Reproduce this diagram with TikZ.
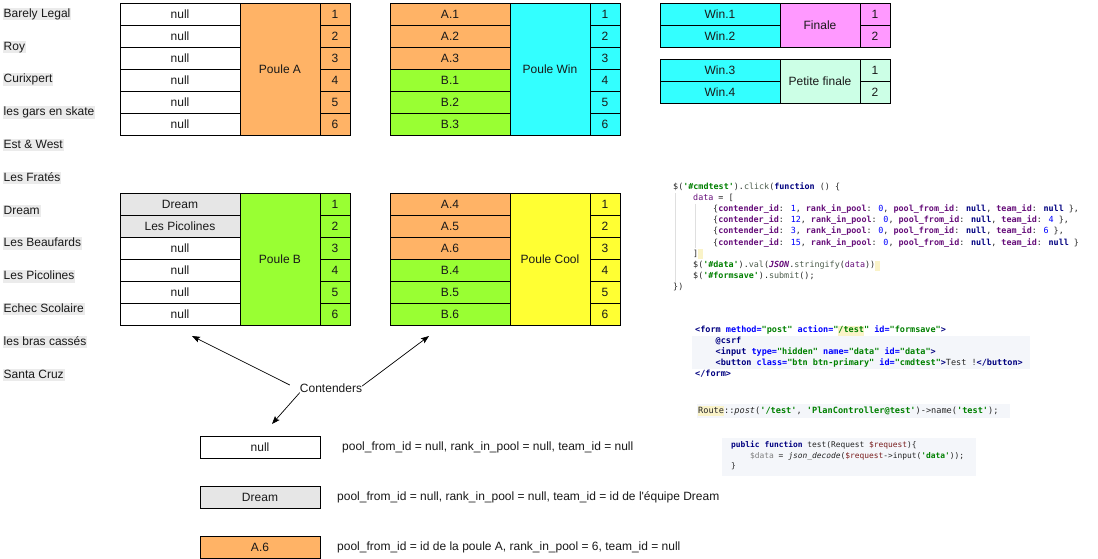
\documentclass[tikz,border=0pt]{standalone}
\usepackage{fontspec}
\setmainfont{Liberation Sans}[Ligatures=TeXOff]
\newfontfamily\codefont{DejaVu Sans Mono}[Ligatures=TeXOff]
\usetikzlibrary{arrows.meta}

% Pool colours
\definecolor{orangeA}{HTML}{FFB366}
\definecolor{greenB}{HTML}{99FF33}
\definecolor{cyanW}{HTML}{33FFFF}
\definecolor{yellowC}{HTML}{FFFF33}
\definecolor{pinkF}{HTML}{FF99FF}
\definecolor{mintP}{HTML}{CCFFE6}
\definecolor{grayT}{HTML}{E6E6E6}

% Code colours
\definecolor{cKw}{HTML}{000080}
\definecolor{cStr}{HTML}{008000}
\definecolor{cNum}{HTML}{0000FF}
\definecolor{cProp}{HTML}{660E7A}
\definecolor{cFn}{HTML}{4E5E4E}
\definecolor{cPhp}{HTML}{7A1F1F}
\definecolor{cHl}{HTML}{FAF3C8}
\definecolor{cBg}{HTML}{F4F6FA}

\newcommand\cdStr[1]{\textcolor{cStr}{\bfseries #1}}
\newcommand\cdKw[1]{\textcolor{cKw}{\bfseries #1}}
\newcommand\cdNum[1]{\textcolor{cNum}{#1}}
\newcommand\cdKey[1]{\textcolor{cProp}{\bfseries #1}}
\newcommand\cdVar[1]{\textcolor{cProp}{#1}}
\newcommand\cdIt[1]{\textcolor{cProp}{\bfseries\itshape #1}}
\newcommand\cdFn[1]{\textcolor{cFn}{#1}}
\newcommand\cdAttr[1]{\textcolor{cNum}{\bfseries #1}}
\newcommand\cdPhp[1]{\textcolor{cPhp}{#1}}
\newcommand\cdHl[1]{{\fboxsep=0pt\colorbox{cHl}{\strut #1}}}

\begin{document}
\begin{tikzpicture}[x=1pt, y=-1pt,
  txt/.style={font=\fontsize{12}{14}\selectfont, text=black!90},
  namecell/.style={txt, draw, line width=1pt, fill=white, minimum width=120, minimum height=22, inner sep=0},
  poolcell/.style={txt, draw, line width=1pt, minimum width=80, inner sep=0},
  rankcell/.style={txt, draw, line width=1pt, minimum width=30, minimum height=22, inner sep=0},
  team/.style={txt, anchor=west, fill=grayT!80, inner xsep=1pt, inner ysep=0.5pt, text height=9pt, text depth=2.5pt},
  legend/.style={txt, anchor=west, inner sep=0},
  code/.style={anchor=west, inner sep=0, text=black!85, text height=6pt, text depth=1.8pt},
  conn/.style={-{Stealth[length=8pt, width=6pt, inset=1.5pt]}, line width=0.7pt}]

\path[use as bounding box, fill=white] (0,0) rectangle (1098,558);

% Teams
\foreach \t [count=\i from 0] in {Barely Legal, Roy, Curixpert, les gars en skate, Est \& West, Les Fratés, Dream, Les Beaufards, Les Picolines, Echec Scolaire, les bras cassés, Santa Cruz} {
  \node[team] (team-\i) at (2.5, 14+32.8*\i) {\t};
}

% Poule A
\foreach \i in {1,...,6} {
  \node[namecell] (A-n\i) at (180, 22*\i-8) {null};
  \node[rankcell, fill=orangeA] (A-r\i) at (335, 22*\i-8) {\i};
}
\node[poolcell, minimum height=132, fill=orangeA] (A-pool) at (280, 69) {Poule A};

% Poule Win
\foreach \t/\c [count=\i] in {A.1/orangeA, A.2/orangeA, A.3/orangeA, B.1/greenB, B.2/greenB, B.3/greenB} {
  \node[namecell, fill=\c] (W-n\i) at (450, 22*\i-8) {\t};
  \node[rankcell, fill=cyanW] (W-r\i) at (605, 22*\i-8) {\i};
}
\node[poolcell, minimum height=132, fill=cyanW] (W-pool) at (550, 69) {Poule Win};

% Poule B
\foreach \t/\c [count=\i] in {Dream/grayT, Les Picolines/grayT, null/white, null/white, null/white, null/white} {
  \node[namecell, fill=\c] (B-n\i) at (180, 22*\i+182) {\t};
  \node[rankcell, fill=greenB] (B-r\i) at (335, 22*\i+182) {\i};
}
\node[poolcell, minimum height=132, fill=greenB] (B-pool) at (280, 259) {Poule B};

% Poule Cool
\foreach \t/\c [count=\i] in {A.4/orangeA, A.5/orangeA, A.6/orangeA, B.4/greenB, B.5/greenB, B.6/greenB} {
  \node[namecell, fill=\c] (C-n\i) at (450, 22*\i+182) {\t};
  \node[rankcell, fill=yellowC] (C-r\i) at (605, 22*\i+182) {\i};
}
\node[poolcell, minimum height=132, fill=yellowC] (C-pool) at (550, 259) {Poule Cool};

% Finale and petite finale
\foreach \i in {1,2} {
  \node[namecell, fill=cyanW] (F-n\i) at (720, 22*\i-8) {Win.\i};
  \node[rankcell, fill=pinkF] (F-r\i) at (875, 22*\i-8) {\i};
  \pgfmathtruncatemacro\w{\i+2}
  \node[namecell, fill=cyanW] (P-n\i) at (720, 22*\i+48) {Win.\w};
  \node[rankcell, fill=mintP] (P-r\i) at (875, 22*\i+48) {\i};
}
\node[poolcell, minimum height=44, fill=pinkF] (F-pool) at (820, 25) {Finale};
\node[poolcell, minimum height=44, fill=mintP] (P-pool) at (820, 81) {Petite finale};

% Contenders and the arrows
\node[txt, inner sep=0] (cont) at (331, 388) {Contenders};
\coordinate (B-tip) at (192, 336);
\coordinate (C-tip) at (429, 336);
\coordinate (L-tip) at (272, 424);
\draw[conn] ([shift={(-10,-3)}]cont.west) -- (B-tip);
\draw[conn] ([shift={(0,-2)}]cont.east) -- (C-tip);
\draw[conn] (cont.south west) -- (L-tip);

% Legend
\node[namecell] (L-null) at (260, 447) {null};
\node[namecell, fill=grayT] (L-team) at (260, 497) {Dream};
\node[namecell, fill=orangeA] (L-pool) at (260, 547) {A.6};
\node[legend] (L-null-txt) at (342, 447) {pool\_from\_id = null, rank\_in\_pool = null, team\_id = null};
\node[legend] (L-team-txt) at (337, 497) {pool\_from\_id = null, rank\_in\_pool = null, team\_id = id de l'équipe Dream};
\node[legend] (L-pool-txt) at (337, 547) {pool\_from\_id = id de la poule A, rank\_in\_pool = 6, team\_id = null};

% Code: jQuery
\draw[gray!25, line width=0.6pt] (675.5,193) -- (675.5,283);
\draw[gray!25, line width=0.6pt] (695.5,204) -- (695.5,248);
\begin{scope}[every node/.append style={code, font=\codefont\fontsize{8.4}{10}\selectfont}]
\node (js0) at (673, 187.0) {\$(\cdStr{'\#cmdtest'}).\cdFn{click}(\cdKw{function} () \{};
\node (js1) at (693, 198.2) {\cdVar{data} = [};
\node (js2) at (713, 209.4) {\{\cdKey{contender\_id}: \cdNum{1}, \cdKey{rank\_in\_pool}: \cdNum{0}, \cdKey{pool\_from\_id}: \cdKw{null}, \cdKey{team\_id}: \cdKw{null} \},};
\node (js3) at (713, 220.6) {\{\cdKey{contender\_id}: \cdNum{12}, \cdKey{rank\_in\_pool}: \cdNum{0}, \cdKey{pool\_from\_id}: \cdKw{null}, \cdKey{team\_id}: \cdNum{4} \},};
\node (js4) at (713, 231.8) {\{\cdKey{contender\_id}: \cdNum{3}, \cdKey{rank\_in\_pool}: \cdNum{0}, \cdKey{pool\_from\_id}: \cdKw{null}, \cdKey{team\_id}: \cdNum{6} \},};
\node (js5) at (713, 243.0) {\{\cdKey{contender\_id}: \cdNum{15}, \cdKey{rank\_in\_pool}: \cdNum{0}, \cdKey{pool\_from\_id}: \cdKw{null}, \cdKey{team\_id}: \cdKw{null} \}};
\node (js6) at (693, 254.2) {]\cdHl{\hphantom{0}}};
\node (js7) at (693, 265.4) {\$(\cdStr{'\#data'}).\cdFn{val}(\cdIt{JSON}.\cdFn{stringify}(\cdVar{data}))\cdHl{\hphantom{0}}};
\node (js8) at (693, 276.6) {\$(\cdStr{'\#formsave'}).\cdFn{submit}();};
\node (js9) at (673, 287.8) {\})};
\end{scope}

% Code: form
\fill[cBg] (692,336) rectangle (1030,369);
\begin{scope}[every node/.append style={code, font=\codefont\fontsize{8.5}{10}\selectfont}]
\node (html0) at (695, 330.7) {\cdKw{<form} \cdAttr{method=}\cdStr{"post"} \cdAttr{action=}\cdStr{"\cdHl{/test}"} \cdAttr{id=}\cdStr{"formsave"}\cdKw{>}};
\node (html1) at (715.5, 341.7) {\cdKw{@csrf}};
\node (html2) at (715.5, 352.7) {\cdKw{<input} \cdAttr{type=}\cdStr{"hidden"} \cdAttr{name=}\cdStr{"data"} \cdAttr{id=}\cdStr{"data"}\cdKw{>}};
\node (html3) at (715.5, 363.7) {\cdKw{<button} \cdAttr{class=}\cdStr{"btn btn-primary"} \cdAttr{id=}\cdStr{"cmdtest"}\cdKw{>}Test !\cdKw{</button>}};
\node (html4) at (695, 374.7) {\cdKw{</form>}};
\end{scope}

% Code: route
\fill[cBg] (697,404) rectangle (1010,418);
\node[code, font=\codefont\fontsize{8.6}{10}\selectfont] (route) at (698, 411) {\cdHl{Route}::\textit{post}(\cdStr{'/test'}, \cdStr{'PlanController@test'})->name(\cdStr{'test'});};

% Code: controller
\fill[cBg] (722,438) rectangle (976,476);
\begin{scope}[every node/.append style={code, font=\codefont\fontsize{7.9}{9}\selectfont}]
\node (php0) at (731, 445.7) {\cdKw{public} \cdKw{function} test(Request \cdPhp{\$request})\{};
\node (php1) at (750, 456) {\textcolor{gray}{\$data} = \textit{json\_decode}(\cdPhp{\$request}->input(\cdStr{'data'}));};
\node (php2) at (731, 466) {\}};
\end{scope}

\end{tikzpicture}
\end{document}
